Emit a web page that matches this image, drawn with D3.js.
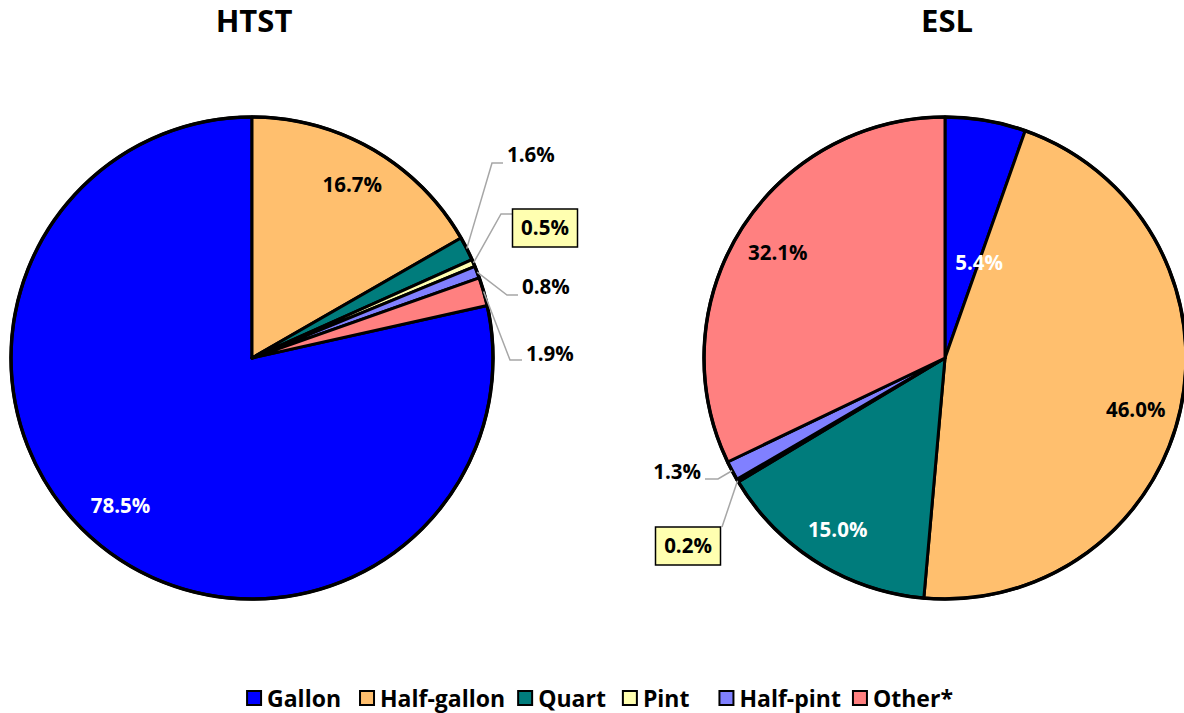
<!DOCTYPE html>
<html>
<head>
<meta charset="utf-8">
<script src="https://cdn.jsdelivr.net/npm/d3@7/dist/d3.min.js"></script>
<style>
  html, body { margin: 0; padding: 0; background: #fff; }
  svg { display: block; font-family: "Open Sans", "DejaVu Sans", sans-serif; }
</style>
</head>
<body>
<svg id="chart" width="1184" height="713"></svg>
<script>
// Package size shares (%) for the two processing types
const categories = ["Gallon", "Half-gallon", "Quart", "Pint", "Half-pint", "Other*"];
const htstValues = [78.5, 16.7, 1.6, 0.5, 0.8, 1.9];
const eslValues  = [5.4, 46.0, 15.0, 0.2, 1.3, 32.1];
const pieTitles  = ["HTST", "ESL"];

const colors = ["#0000FF", "#FFBF6E", "#007C7C", "#FFFFB0", "#8080FF", "#FF8080"];
const labelInk = ["#fff", "#000", "#fff", "#000", "#000", "#000"];

const svg = d3.select("#chart");
const R = 241;
const LABEL_SIZE = 20.5;

// Layout of each pie: centre, rotation of the first slice, and label placement.
// Inside labels: radius fraction + angle nudge (deg).
// Callouts: elbow point, end of the horizontal stub and text position, relative to the centre.
const pies = [
  {
    title: pieTitles[0], values: htstValues, cx: 252, cy: 358,
    firstAngle: 77.4,
    labels: [
      { type: "in", r: 0.82, da: 3 },
      { type: "in", r: 0.83, da: 0 },
      { type: "out", ex: 240, ey: -195, hx: 251, tx: 255, ty: -203, anchor: "start" },
      { type: "out", ex: 249, ey: -144, hx: 260, tx: 293, ty: -130, anchor: "middle", box: true },
      { type: "out", ex: 255, ey: -63,  hx: 266, tx: 270, ty: -71, anchor: "start" },
      { type: "out", ex: 258, ey: 2,    hx: 270, tx: 274, ty: -4, anchor: "start" }
    ]
  },
  {
    title: pieTitles[1], values: eslValues, cx: 945, cy: 358,
    firstAngle: 0,
    labels: [
      { type: "in", r: 0.42, da: 10 },
      { type: "in", r: 0.82, da: 3 },
      { type: "in", r: 0.84, da: 0 },
      { type: "out", ex: -223, ey: 169, hx: -223, tx: -257, ty: 188, anchor: "middle", box: true },
      { type: "out", ex: -227, ey: 121, hx: -240, tx: -244, ty: 114, anchor: "end" },
      { type: "in", r: 0.82, da: 0 }
    ]
  }
];

const fmt = v => v.toFixed(1) + "%";
const toRad = d => d * Math.PI / 180;

pies.forEach(p => {
  const start = toRad(p.firstAngle);
  const pie = d3.pie().sort(null).startAngle(start).endAngle(start + 2 * Math.PI);
  const arcs = pie(p.values);
  const arc = d3.arc().innerRadius(0).outerRadius(R);

  const g = svg.append("g").attr("transform", `translate(${p.cx},${p.cy})`);

  g.selectAll("path.slice")
    .data(arcs)
    .join("path")
    .attr("class", "slice")
    .attr("d", arc)
    .attr("fill", (d, i) => colors[i])
    .attr("stroke", "#000")
    .attr("stroke-width", 3)
    .attr("stroke-linejoin", "round");

  g.append("circle")
    .attr("r", R)
    .attr("fill", "none")
    .attr("stroke", "#000")
    .attr("stroke-width", 3.5);

  // title
  svg.append("text")
    .attr("x", p.cx + 2)
    .attr("y", 32)
    .attr("text-anchor", "middle")
    .attr("font-size", 31)
    .attr("font-weight", 700)
    .attr("fill", "#000")
    .text(p.title);

  arcs.forEach((d, i) => {
    const L = p.labels[i];
    const mid = (d.startAngle + d.endAngle) / 2;
    if (L.type === "in") {
      const a = mid + toRad(L.da);
      const rr = L.r * R;
      g.append("text")
        .attr("x", rr * Math.sin(a))
        .attr("y", -rr * Math.cos(a))
        .attr("dy", "0.35em")
        .attr("text-anchor", "middle")
        .attr("font-size", LABEL_SIZE)
        .attr("font-weight", 700)
        .attr("fill", labelInk[i])
        .text(fmt(p.values[i]));
    } else {
      const sx = R * Math.sin(mid), sy = -R * Math.cos(mid);
      g.append("polyline")
        .attr("points", [[sx, sy], [L.ex, L.ey], [L.hx, L.ey]].map(q => q.join(",")).join(" "))
        .attr("fill", "none")
        .attr("stroke", "#A6A6A6")
        .attr("stroke-width", 1.5);
      if (L.box) {
        g.append("rect")
          .attr("x", L.tx - 32.5)
          .attr("y", L.ty - 19)
          .attr("width", 65)
          .attr("height", 38)
          .attr("fill", "#FFFFB0")
          .attr("stroke", "#000")
          .attr("stroke-width", 1.5);
      }
      g.append("text")
        .attr("x", L.tx)
        .attr("y", L.ty)
        .attr("dy", "0.35em")
        .attr("text-anchor", L.anchor)
        .attr("font-size", LABEL_SIZE)
        .attr("font-weight", 700)
        .attr("fill", "#000")
        .text(fmt(p.values[i]));
    }
  });
});

// Legend along the bottom
const legend = svg.append("g");
const items = legend.selectAll("g.item").data(categories).join("g").attr("class", "item");
items.append("rect")
  .attr("width", 14).attr("height", 14)
  .attr("y", 691)
  .attr("fill", (d, i) => colors[i])
  .attr("stroke", "#000")
  .attr("stroke-width", 2);
items.append("text")
  .attr("x", 20)
  .attr("y", 707)
  .attr("font-size", 23)
  .attr("font-weight", 700)
  .attr("fill", "#000")
  .text(d => d);

let x = 0;
const gaps = [19, 13, 17, 30, 12, 0];
items.each(function(d, i) {
  const w = 20 + this.querySelector("text").getComputedTextLength();
  d3.select(this).attr("transform", `translate(${x},0)`);
  x += w + gaps[i];
});
legend.attr("transform", `translate(${600 - x / 2},0)`);
</script>
</body>
</html>
